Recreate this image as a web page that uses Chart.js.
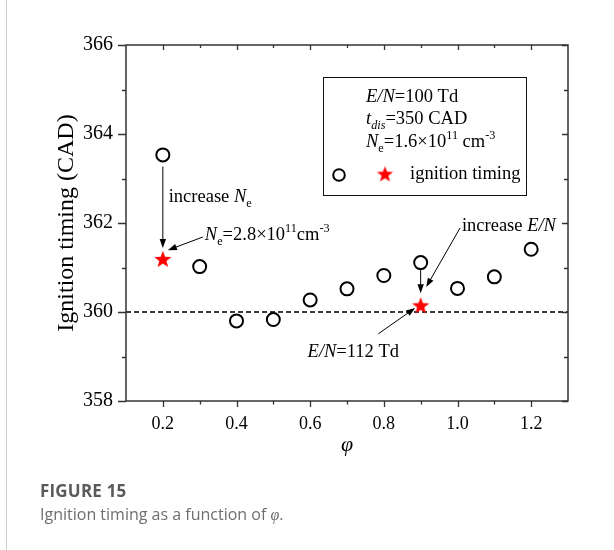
<!DOCTYPE html>
<html>
<head>
<meta charset="utf-8">
<script src="https://cdn.jsdelivr.net/npm/chart.js@4.4.1/dist/chart.umd.min.js"></script>
<style>
  body { margin: 0; background: #fff; }
  #wrap { position: relative; width: 614px; height: 550px; overflow: hidden; }
  #edge { position: absolute; left: 6px; top: 0; width: 1px; height: 550px; background: #cfcfcf; }
  #myChart { position: absolute; left: 0; top: 0; }
  .cap { position: absolute; left: 40px; font-family: "Open Sans", sans-serif; white-space: nowrap; }
  #capTitle { top: 479px; font-size: 17px; font-weight: 700; color: #5a5a5a; letter-spacing: 0.2px; }
  #capText { top: 503px; font-size: 16px; color: #6e6e6e; }
</style>
</head>
<body>
<div id="wrap">
  <div id="edge"></div>
  <canvas id="myChart" width="614" height="550"></canvas>
  <div class="cap" id="capTitle">FIGURE 15</div>
  <div class="cap" id="capText">Ignition timing as a function of <i style="font-family:'Liberation Serif',serif">φ</i>.</div>
</div>
<script>
// data
const phi = [0.2, 0.3, 0.4, 0.5, 0.6, 0.7, 0.8, 0.9, 1.0, 1.1, 1.2];
const timing = [363.53, 361.02, 359.80, 359.83, 360.27, 360.52, 360.82, 361.11, 360.53, 360.79, 361.41];
const starPhi = [0.2, 0.9];
const starTiming = [361.19, 360.15];
const refLine = 360;

// axes
const xMin = 0.1, xMax = 1.3;
const yMin = 358, yMax = 366;
const xMajor = [0.2, 0.4, 0.6, 0.8, 1.0, 1.2];
const xMinor = [0.3, 0.5, 0.7, 0.9, 1.1];
const yMajor = [358, 360, 362, 364, 366];
const yMinor = [359, 361, 363, 365];

const SERIF = '"Liberation Serif", "Times New Roman", serif';

// red filled star used as point image
function makeStar(r) {
  const c = document.createElement("canvas");
  const s = Math.ceil(r * 2 + 2);
  c.width = s; c.height = s;
  const g = c.getContext("2d");
  g.translate(s / 2, s / 2 + r * 0.08);
  g.beginPath();
  for (let i = 0; i < 10; i++) {
    const rad = i % 2 === 0 ? r : r * 0.42;
    const a = -Math.PI / 2 + i * Math.PI / 5;
    g.lineTo(rad * Math.cos(a), rad * Math.sin(a));
  }
  g.closePath();
  g.fillStyle = "#ff0000";
  g.fill();
  return c;
}
const starImg = makeStar(9);
const starSmall = makeStar(8.5);

// text with italic / sub / sup pieces: [text, italic, shift]
function drawRich(ctx, x, y, parts, size) {
  ctx.textBaseline = "alphabetic";
  ctx.textAlign = "left";
  ctx.fillStyle = "#000";
  parts.forEach(([t, it, shift]) => {
    const fs = shift ? size * 0.66 : size;
    const dy = shift === "sub" ? size * 0.28 : shift === "sup" ? -size * 0.42 : 0;
    ctx.font = (it ? "italic " : "") + fs + "px " + SERIF;
    ctx.fillText(t, x, y + dy);
    x += ctx.measureText(t).width;
  });
}

function arrow(ctx, x1, y1, x2, y2) {
  const a = Math.atan2(y2 - y1, x2 - x1);
  const L = 9, W = 3.2;
  ctx.strokeStyle = "#000";
  ctx.fillStyle = "#000";
  ctx.lineWidth = 1;
  ctx.beginPath();
  ctx.moveTo(x1, y1);
  ctx.lineTo(x2 - (L - 1) * Math.cos(a), y2 - (L - 1) * Math.sin(a));
  ctx.stroke();
  ctx.beginPath();
  ctx.moveTo(x2, y2);
  ctx.lineTo(x2 - L * Math.cos(a) + W * Math.sin(a), y2 - L * Math.sin(a) - W * Math.cos(a));
  ctx.lineTo(x2 - L * Math.cos(a) - W * Math.sin(a), y2 - L * Math.sin(a) + W * Math.cos(a));
  ctx.closePath();
  ctx.fill();
}

// annotation arrows in data units [x1, y1, x2, y2]
const arrows = [
  [0.2, 363.27, 0.2, 361.44],
  [0.3085, 361.685, 0.2137, 361.39],
  [1.007, 361.89, 0.915, 360.56],
  [0.9, 360.95, 0.9, 360.42],
  [0.785, 359.51, 0.885, 360.09],
];
// annotation labels, anchored at text start / baseline in data units
const notes = [
  { x: 0.216, y: 362.48, parts: [["increase ", false], ["N", true], ["e", false, "sub"]] },
  { x: 0.314, y: 361.62, parts: [["N", true], ["e", false, "sub"], ["=2.8×10", false], ["11", false, "sup"], ["cm", false], ["-3", false, "sup"]] },
  { x: 1.012, y: 361.83, parts: [["increase ", false], ["E/N", true]] },
  { x: 0.593, y: 359.0, parts: [["E/N", true], ["=112 Td", false]] },
];

const framePlugin = {
  id: "frame",
  afterDatasetsDraw(chart) {
    const ctx = chart.ctx;
    const { left, right, top, bottom } = chart.chartArea;
    const xs = chart.scales.x, ys = chart.scales.y;
    ctx.save();
    ctx.strokeStyle = "#333";
    ctx.lineWidth = 1.5;
    ctx.strokeRect(left, top, right - left, bottom - top);
    ctx.lineWidth = 1.3;
    ctx.beginPath();
    xMajor.forEach(v => {
      const p = Math.round(xs.getPixelForValue(v)) + 0.5;
      ctx.moveTo(p, bottom); ctx.lineTo(p, bottom + 6);
      ctx.moveTo(p, top); ctx.lineTo(p, top + 5);
    });
    xMinor.forEach(v => {
      const p = Math.round(xs.getPixelForValue(v)) + 0.5;
      ctx.moveTo(p, bottom); ctx.lineTo(p, bottom + 3.5);
      ctx.moveTo(p, top); ctx.lineTo(p, top + 3);
    });
    yMajor.forEach(v => {
      const p = Math.round(ys.getPixelForValue(v)) + 0.5;
      ctx.moveTo(left, p); ctx.lineTo(left - 8, p);
      ctx.moveTo(right, p); ctx.lineTo(right - 6, p);
    });
    yMinor.forEach(v => {
      const p = Math.round(ys.getPixelForValue(v)) + 0.5;
      ctx.moveTo(left, p); ctx.lineTo(left - 4, p);
      ctx.moveTo(right, p); ctx.lineTo(right - 4, p);
    });
    ctx.stroke();

    // arrows and notes
    arrows.forEach(([a, b, c, d]) => {
      arrow(ctx, xs.getPixelForValue(a), ys.getPixelForValue(b), xs.getPixelForValue(c), ys.getPixelForValue(d));
    });
    notes.forEach(n => drawRich(ctx, xs.getPixelForValue(n.x), ys.getPixelForValue(n.y), n.parts, 18.5));

    // legend box
    ctx.strokeStyle = "#111";
    ctx.lineWidth = 1;
    ctx.strokeRect(323.5, 77.5, 203, 118);
    drawRich(ctx, 366, 102, [["E/N", true], ["=100 Td", false]], 18.5);
    drawRich(ctx, 366, 124, [["t", true], ["dis", true, "sub"], ["=350 CAD", false]], 18.5);
    drawRich(ctx, 366, 147, [["N", true], ["e", false, "sub"], ["=1.6×10", false], ["11", false, "sup"], [" cm", false], ["-3", false, "sup"]], 18.5);
    ctx.beginPath();
    ctx.arc(339, 175, 5.8, 0, Math.PI * 2);
    ctx.lineWidth = 2;
    ctx.strokeStyle = "#000";
    ctx.stroke();
    ctx.drawImage(starSmall, 385 - starSmall.width / 2, 174 - starSmall.height / 2);
    drawRich(ctx, 410, 179, [["ignition timing", false]], 18.5);
    ctx.restore();
  }
};

document.addEventListener("DOMContentLoaded", function () {
  const ctx = document.getElementById("myChart");

  new Chart(ctx, {
    type: "scatter",
    data: {
      datasets: [
        {
          type: "line",
          data: [{ x: xMin, y: refLine }, { x: xMax, y: refLine }],
          borderColor: "#000",
          borderWidth: 1.5,
          borderDash: [5, 3],
          pointRadius: 0,
          order: 3,
        },
        {
          data: phi.map((v, i) => ({ x: v, y: timing[i] })),
          pointRadius: 6.5,
          borderWidth: 2,
          borderColor: "#000",
          backgroundColor: "#fff",
          order: 2,
        },
        {
          data: starPhi.map((v, i) => ({ x: v, y: starTiming[i] })),
          pointStyle: starImg,
          pointRadius: 9,
          order: 1,
        },
      ],
    },
    options: {
      responsive: false,
      animation: false,
      devicePixelRatio: 1,
      layout: { padding: { left: 52, top: 45, right: 46, bottom: 90 } },
      plugins: {
        legend: { display: false },
        tooltip: { enabled: false },
      },
      scales: {
        x: {
          type: "linear",
          min: xMin,
          max: xMax,
          grid: { display: false, drawTicks: false },
          border: { display: false },
          afterBuildTicks: (s) => { s.ticks = xMajor.map(v => ({ value: v })); },
          afterFit: (s) => { s.height = 59; },
          ticks: {
            padding: 12,
            color: "#000",
            font: { family: SERIF, size: 18 },
            callback: (v) => v.toFixed(1),
          },
          title: {
            display: true,
            text: "φ",
            color: "#000",
            padding: { top: 0, bottom: 2 },
            font: { family: SERIF, size: 22, style: "italic" },
          },
        },
        y: {
          min: yMin,
          max: yMax,
          grid: { display: false, drawTicks: false },
          border: { display: false },
          afterBuildTicks: (s) => { s.ticks = yMajor.map(v => ({ value: v })); },
          afterFit: (s) => { s.width = 74; },
          ticks: {
            padding: 13,
            color: "#000",
            font: { family: SERIF, size: 20 },
          },
          title: {
            display: true,
            text: "Ignition timing (CAD)",
            color: "#000",
            padding: { top: 0, bottom: 0 },
            font: { family: SERIF, size: 24 },
          },
        },
      },
    },
    plugins: [framePlugin],
  });
});
</script>
</body>
</html>
